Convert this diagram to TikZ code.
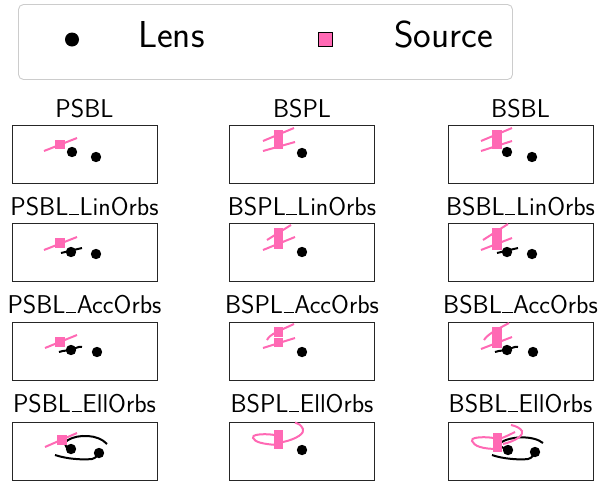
\documentclass[tikz,border=0pt]{standalone}
\usepackage{xcolor}
\definecolor{srcpink}{HTML}{FF69B4}
\definecolor{leggray}{HTML}{CCCCCC}
\tikzset{
  panelbox/.style={draw=black!85, line width=0.9pt},
  paneltitle/.style={anchor=base, inner sep=0pt, font=\fontsize{25.7}{28}\selectfont\sffamily},
  legtext/.style={anchor=base west, inner sep=0pt, font=\fontsize{37.5}{40}\selectfont\sffamily},
  srcline/.style={draw=srcpink, line width=2pt},
  srcfill/.style={fill=srcpink},
  lensorb/.style={draw=black, line width=2pt},
}
\newcommand\us{\kern0.02em\rule[-0.01em]{0.4em}{0.065em}\kern0.02em}
\newcommand\lensdot[2]{\fill[black] (#1,#2) circle[radius=5.2];}
\newcommand\srcsq[2]{\fill[srcpink] (#1-4.7,#2-4.7) rectangle (#1+4.7,#2+4.7);}
\begin{document}
\begin{tikzpicture}[x=1pt,y=-1pt]
\useasboundingbox (0,0) rectangle (600,488);
% legend
\draw[leggray, line width=0.9pt, rounded corners=5pt] (18.5,4.5) rectangle (512.5,79.5);
\fill[black] (72,39.5) circle[radius=7];
\node[legtext] (lens) at (138,47) {Lens};
\draw[black, line width=0.6pt, fill=srcpink] (318.5,32.5) rectangle (332.5,46.5);
\node[legtext] (source) at (394,47) {Source};
% titles
\node[paneltitle] (t11) at (84.5,117) {PSBL};
\node[paneltitle] (t12) at (302,117) {BSPL};
\node[paneltitle] (t13) at (520.5,117) {BSBL};
\node[paneltitle] (t21) at (84.5,215) {PSBL\us LinOrbs};
\node[paneltitle] (t22) at (302,215) {BSPL\us LinOrbs};
\node[paneltitle] (t23) at (520.5,215) {BSBL\us LinOrbs};
\node[paneltitle] (t31) at (84.5,313) {PSBL\us AccOrbs};
\node[paneltitle] (t32) at (302,313) {BSPL\us AccOrbs};
\node[paneltitle] (t33) at (520.5,313) {BSBL\us AccOrbs};
\node[paneltitle] (t41) at (84.5,412) {PSBL\us EllOrbs};
\node[paneltitle] (t42) at (302,412) {BSPL\us EllOrbs};
\node[paneltitle] (t43) at (520.5,412) {BSBL\us EllOrbs};
% boxes
\foreach \c in {12,229,448}{
  \foreach \r in {125,223,322,422}{
    \draw[panelbox] (\c,\r) rectangle ++(145,58);
  }
}
% ---- row 1
\begin{scope}[shift={(12,125)}]
  \lensdot{60}{27}\lensdot{84}{32}
  \draw[srcline] (32,26) -- (65,13);
  \srcsq{48}{19.5}
\end{scope}
\begin{scope}[shift={(229,125)}]
  \lensdot{73}{28}
  \draw[srcline] (34,16) -- (65,3);
  \draw[srcline] (34,26) -- (66,17);
  \fill[srcpink] (45,5) rectangle (54,24);
\end{scope}
\begin{scope}[shift={(448,125)}]
  \lensdot{59}{27}\lensdot{84}{32}
  \draw[srcline] (33,16) -- (64,3);
  \draw[srcline] (33,26) -- (64,16);
  \fill[srcpink] (44,5) rectangle (54,24);
\end{scope}
% ---- row 2
\begin{scope}[shift={(12,223)}]
  \draw[lensorb] (49,30) -- (70,25);
  \lensdot{59}{29}\lensdot{84}{31}
  \draw[srcline] (32,27) -- (65,14);
  \srcsq{48}{20}
\end{scope}
\begin{scope}[shift={(229,223)}]
  \lensdot{73}{29}
  \draw[srcline] (38,17) -- (62,2);
  \draw[srcline] (34,27) -- (66,14);
  \fill[srcpink] (45,5) rectangle (54,15.5);
  \fill[srcpink] (44.5,16) rectangle (54,26);
\end{scope}
\begin{scope}[shift={(448,223)}]
  \draw[lensorb] (49,30) -- (70,25);
  \lensdot{59}{29}\lensdot{84}{31}
  \draw[srcline] (35,17) -- (60,1);
  \draw[srcline] (33,27) -- (64,15);
  \fill[srcpink] (44,5) rectangle (54,15.5);
  \fill[srcpink] (43.5,16) rectangle (54,27);
\end{scope}
% ---- row 3
\begin{scope}[shift={(12,322)}]
  \draw[lensorb] (47,30) .. controls (53,28) and (55,29) .. (59,28) .. controls (63,27) and (66,24) .. (70,25);
  \lensdot{59}{28}\lensdot{85}{30}
  \draw[srcline] (33,26) -- (65,13);
  \srcsq{48}{20}
\end{scope}
\begin{scope}[shift={(229,322)}]
  \lensdot{73}{30}
  \draw[srcline] (38,18) .. controls (41,12) and (50,9) .. (65,2);
  \draw[srcline] (34,26) -- (66,16);
  \fill[srcpink] (45,5) rectangle (54,15);
  \fill[srcpink] (44.5,15.5) rectangle (54,25);
\end{scope}
\begin{scope}[shift={(448,322)}]
  \draw[lensorb] (47,30) .. controls (53,28) and (55,29) .. (59,28) .. controls (63,27) and (66,24) .. (70,25);
  \lensdot{59}{28}\lensdot{85}{30}
  \draw[srcline] (36,18) .. controls (40,12) and (48,8) .. (61,1);
  \draw[srcline] (33,27) -- (64,15);
  \fill[srcpink] (44,5) rectangle (54,15.5);
  \fill[srcpink] (43.5,16) rectangle (54,26);
\end{scope}
% ---- row 4
\begin{scope}[shift={(12,422)}]
  \draw[lensorb] (57,27) .. controls (52,24) and (52,20) .. (56,18) .. controls (66,12) and (86,12) .. (95,22);
  \draw[lensorb] (43,33) .. controls (55,37) and (70,38) .. (80,37) .. controls (84,36) and (86,33) .. (87,31);
  \lensdot{59}{27}\lensdot{87}{31}
  \draw[srcline] (33,25) -- (65,11);
  \srcsq{50}{18}
\end{scope}
\begin{scope}[shift={(229,422)}]
  \lensdot{73}{28}
  \draw[srcline] (46,13) .. controls (32,11) and (22,13) .. (24,16) .. controls (26,20) and (33,22) .. (48,23);
  \draw[srcline] (54,20) .. controls (68,17) and (76,11) .. (74,7) .. controls (72,3) and (69,1) .. (66,0.5);
  \fill[srcpink] (45,8) rectangle (54,27);
\end{scope}
\begin{scope}[shift={(448,422)}]
  \draw[lensorb] (58,27) .. controls (53,25) and (50,23) .. (52,21) .. controls (62,14) and (85,13) .. (95,21);
  \draw[lensorb] (44,33) .. controls (55,37) and (72,38) .. (80,37) .. controls (84,36) and (86,33) .. (87,30);
  \lensdot{60}{28}\lensdot{87}{30}
  \draw[srcline] (46,16) .. controls (32,14) and (22,16) .. (24,19) .. controls (26,24) and (34,27) .. (50,27);
  \draw[srcline] (55,22) .. controls (68,19) and (76,13) .. (74,9) .. controls (72,6) and (68,4) .. (63,3);
  \draw[srcline] (54,16) .. controls (59,14) and (63,12) .. (67,10);
  \fill[srcpink] (45,11) rectangle (54,30);
\end{scope}
\end{tikzpicture}
\end{document}
